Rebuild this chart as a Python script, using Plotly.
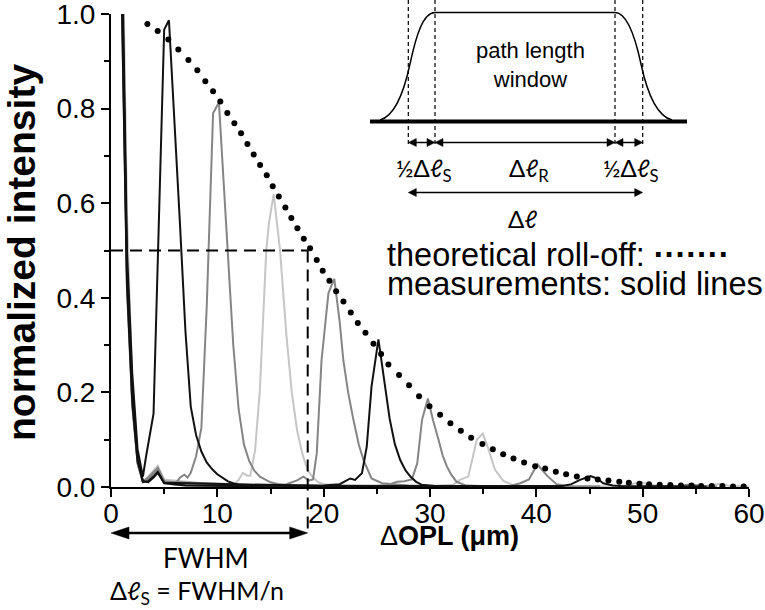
import plotly.graph_objects as go

# ---------------- data ----------------
# theoretical roll-off (dots)
roll_x = [3.42, 4.39, 5.39, 6.33, 7.28, 8.12, 8.87, 9.60, 10.28, 10.94, 11.60, 12.23, 12.83, 13.42,
          14.02, 14.65, 15.21, 15.78, 16.40, 16.96, 17.53, 18.13, 18.72, 19.35, 19.91, 20.54, 21.17,
          21.86, 22.55, 23.21, 23.93, 24.68, 25.40, 26.09, 27.09, 28.03, 28.97, 29.95, 30.95, 31.92,
          32.90, 33.87, 34.93, 35.91, 36.88, 37.85, 38.85, 39.89, 40.83, 41.83, 42.80, 43.81, 44.81,
          45.78, 46.78, 47.8, 48.7, 49.7, 50.6, 51.6, 52.6, 53.6, 54.6, 55.5, 56.5, 57.5, 58.5, 59.5]
roll_y = [0.979, 0.964, 0.946, 0.925, 0.903, 0.881, 0.858, 0.837, 0.815, 0.791, 0.769, 0.748, 0.725,
          0.703, 0.681, 0.659, 0.636, 0.614, 0.591, 0.569, 0.547, 0.525, 0.505, 0.480, 0.457, 0.436,
          0.414, 0.392, 0.369, 0.347, 0.326, 0.303, 0.281, 0.259, 0.237, 0.215, 0.192, 0.171, 0.153,
          0.135, 0.119, 0.104, 0.091, 0.080, 0.069, 0.060, 0.052, 0.044, 0.039, 0.032, 0.027, 0.022,
          0.018, 0.016, 0.014, 0.011, 0.009, 0.007, 0.006, 0.005, 0.004, 0.003, 0.003, 0.002, 0.002,
          0.002, 0.001, 0.001]

# measured point-spread functions (solid lines)
A_x = [0.0, 0.5, 1.0, 1.5, 2.0, 2.5, 3.0, 3.3, 4.0, 4.5, 5.0, 5.45, 6.0, 6.5, 7.0, 7.5, 8.0, 8.5, 9.0,
       9.5, 10.0, 10.5, 11.0, 11.5, 12.0, 13.0, 14.0, 15.0, 16.0, 17.0, 18.0, 20.0]
A_y = [4.0, 2.5, 1.2, 0.5, 0.24, 0.08, 0.022, 0.065, 0.155, 0.56, 0.967, 0.987, 0.77, 0.55, 0.33,
       0.17, 0.11, 0.075, 0.052, 0.038, 0.027, 0.019, 0.012, 0.008, 0.005, 0.002, 0.003, 0.004,
       0.003, 0.002, 0.001, 0.0]
B_x = [0.0, 0.5, 1.0, 1.5, 2.0, 2.5, 3.0, 3.5, 4.0, 4.4, 5.0, 6.0, 6.5, 6.9, 7.2, 7.5, 8.0, 8.5, 9.0,
       9.6, 10.15, 10.6, 11.0, 11.5, 12.0, 12.5, 13.0, 13.5, 14.0, 15.0, 16.0, 18.0, 20.0, 24.0]
B_y = [4.0, 2.3, 1.1, 0.45, 0.19, 0.06, 0.012, 0.018, 0.03, 0.04, 0.012, 0.006, 0.02, 0.026, 0.02,
       0.03, 0.065, 0.125, 0.38, 0.79, 0.813, 0.65, 0.49, 0.3, 0.165, 0.09, 0.055, 0.034, 0.022,
       0.01, 0.005, 0.003, 0.002, 0.001]
C_x = [0.0, 0.5, 1.0, 1.5, 2.0, 2.5, 3.0, 3.5, 4.0, 4.4, 5.0, 6.0, 8.0, 10.0, 11.5, 12.0, 12.4, 12.8,
       13.1, 13.55, 14.0, 14.6, 14.85, 15.3, 15.9, 16.5, 17.0, 17.5, 18.0, 18.5, 19.0, 19.5, 20.0,
       22.0, 26.0]
C_y = [4.0, 2.4, 1.25, 0.55, 0.2, 0.05, 0.01, 0.02, 0.033, 0.042, 0.014, 0.004, 0.003, 0.002, 0.004,
       0.015, 0.03, 0.024, 0.024, 0.078, 0.205, 0.5, 0.557, 0.619, 0.5, 0.32, 0.2, 0.12, 0.07, 0.035,
       0.02, 0.01, 0.006, 0.003, 0.001]
D_x = [0.0, 0.5, 1.0, 1.5, 2.0, 2.5, 3.0, 3.5, 4.0, 4.4, 5.0, 7.0, 10.0, 14.0, 16.5, 17.5, 18.1, 18.6,
       19.0, 19.35, 19.8, 20.45, 21.0, 21.5, 21.85, 22.3, 22.8, 23.3, 23.75, 24.5, 25.5, 28.0, 32.0]
D_y = [4.0, 2.2, 1.05, 0.42, 0.17, 0.05, 0.01, 0.016, 0.028, 0.036, 0.01, 0.004, 0.003, 0.003, 0.006,
       0.014, 0.022, 0.014, 0.016, 0.071, 0.268, 0.41, 0.44, 0.35, 0.268, 0.2, 0.142, 0.09, 0.057,
       0.018, 0.008, 0.003, 0.001]
E_x = [0.0, 0.5, 1.0, 1.5, 2.0, 2.5, 3.0, 3.5, 4.0, 4.4, 5.0, 7.0, 12.0, 16.0, 20.0, 21.5, 22.5,
       22.95, 23.6, 24.05, 24.5, 25.15, 25.6, 26.2, 26.7, 27.2, 27.7, 28.2, 28.7, 29.2, 30.5, 34.0]
E_y = [4.0, 2.3, 1.15, 0.46, 0.2, 0.06, 0.012, 0.01, 0.02, 0.03, 0.008, 0.003, 0.002, 0.003, 0.003,
       0.006, 0.018, 0.015, 0.029, 0.085, 0.212, 0.312, 0.245, 0.145, 0.09, 0.057, 0.035, 0.021,
       0.011, 0.005, 0.002, 0.001]
F_x = [0.0, 0.5, 1.0, 1.5, 2.0, 2.5, 3.0, 3.5, 4.0, 4.4, 5.0, 10.0, 20.0, 25.0, 26.0, 26.9, 27.6,
       28.3, 28.8, 29.25, 29.8, 30.3, 30.8, 31.2, 31.6, 32.0, 32.5, 33.4, 36.0]
F_y = [4.0, 2.3, 1.1, 0.44, 0.18, 0.055, 0.012, 0.02, 0.032, 0.04, 0.012, 0.003, 0.002, 0.002, 0.004,
       0.011, 0.012, 0.016, 0.05, 0.142, 0.187, 0.14, 0.1, 0.066, 0.043, 0.026, 0.011, 0.003, 0.001]
G_x = [0.0, 0.5, 1.0, 1.5, 2.0, 2.5, 3.0, 3.5, 4.0, 4.4, 5.0, 10.0, 20.0, 30.0, 32.2, 32.8, 33.6,
       34.4, 34.97, 35.5, 36.1, 36.9, 37.7, 38.5, 42.0]
G_y = [4.0, 2.5, 1.3, 0.58, 0.22, 0.06, 0.01, 0.022, 0.036, 0.045, 0.016, 0.004, 0.003, 0.002, 0.005,
       0.015, 0.022, 0.1, 0.113, 0.08, 0.037, 0.013, 0.005, 0.002, 0.001]
H_x = [0.0, 0.5, 1.0, 1.5, 2.0, 2.5, 3.0, 3.5, 4.0, 4.4, 5.0, 15.0, 30.0, 37.5, 38.5, 39.3, 40.1,
       41.0, 41.9, 43.0, 46.0]
H_y = [4.0, 2.3, 1.1, 0.45, 0.18, 0.05, 0.011, 0.018, 0.03, 0.038, 0.011, 0.003, 0.002, 0.002, 0.008,
       0.016, 0.048, 0.024, 0.006, 0.002, 0.001]
I_x = [0.0, 0.5, 1.0, 1.5, 2.0, 2.5, 3.0, 3.5, 4.0, 4.4, 5.0, 20.0, 40.0, 42.5, 43.3, 44.1, 45.1,
       45.7, 46.3, 47.2, 48.0, 52.0, 56.0]
I_y = [4.0, 2.2, 1.05, 0.43, 0.18, 0.055, 0.011, 0.012, 0.022, 0.032, 0.009, 0.002, 0.002, 0.002,
       0.006, 0.015, 0.023, 0.018, 0.008, 0.003, 0.002, 0.002, 0.001]
J_x = [44.0, 48.0, 49.0, 49.8, 50.5, 51.5, 53.0]
J_y = [0.001, 0.002, 0.006, 0.011, 0.006, 0.002, 0.001]
K_x = [50.0, 53.5, 54.5, 55.5, 57.0]
K_y = [0.001, 0.002, 0.006, 0.002, 0.001]
L_x = [52.0, 56.0, 57.2, 58.0, 59.0, 60.0]
L_y = [0.001, 0.002, 0.007, 0.003, 0.002, 0.001]

BLACK, GRAY, LIGHT = "#111111", "#858585", "#c6c6c6"
curves = [
    (L_x, L_y, LIGHT), (J_x, J_y, LIGHT), (G_x, G_y, LIGHT), (C_x, C_y, LIGHT),
    (K_x, K_y, GRAY), (H_x, H_y, GRAY), (F_x, F_y, GRAY), (D_x, D_y, GRAY), (B_x, B_y, GRAY),
    (I_x, I_y, BLACK), (E_x, E_y, BLACK), (A_x, A_y, BLACK),
]

x_ticks = [0, 10, 20, 30, 40, 50, 60]
y_ticks = [0.0, 0.2, 0.4, 0.6, 0.8, 1.0]
fwhm_x = 18.5
half_max = 0.5

# ---------------- layout geometry ----------------
W, H = 765, 610
ML, MR, MT, MB = 111, 16, 14, 123
PW, PH = W - ML - MR, H - MT - MB


def px(sx):
    return (sx - ML) / PW


def py(sy):
    return (H - MB - sy) / PH


fig = go.Figure()
for xs, ys, col in curves:
    fig.add_trace(go.Scatter(x=xs, y=ys, mode="lines", line=dict(color=col, width=2),
                             showlegend=False, hoverinfo="skip"))
fig.add_trace(go.Scatter(x=roll_x, y=roll_y, mode="markers",
                         marker=dict(color="black", size=6), showlegend=False, hoverinfo="skip"))

shapes = []


def pline(x0, y0, x1, y1, width=1.5, dash="solid"):
    shapes.append(dict(type="line", xref="paper", yref="paper", x0=px(x0), y0=py(y0),
                       x1=px(x1), y1=py(y1), line=dict(color="black", width=width, dash=dash)))


def tri(tipx, y, direction, hl, hw):
    bx = tipx - direction * hl
    path = "M {:.5f},{:.5f} L {:.5f},{:.5f} L {:.5f},{:.5f} Z".format(
        px(tipx), py(y), px(bx), py(y - hw), px(bx), py(y + hw))
    shapes.append(dict(type="path", xref="paper", yref="paper", path=path,
                       fillcolor="black", line=dict(color="black", width=0.5)))


def darrow(x0, x1, y, width, hl, hw):
    pline(x0 + hl * 0.8, y, x1 - hl * 0.8, y, width=width)
    tri(x0, y, -1, hl, hw)
    tri(x1, y, 1, hl, hw)


# FWHM dashed guides (data coordinates converted to pixels)
sx_f = ML + fwhm_x / 60 * PW
sy_h = MT + (1 - half_max) * PH
pline(ML, sy_h, sx_f, sy_h, width=2, dash="12px,7px")
pline(sx_f, sy_h, sx_f, 532, width=2, dash="12px,7px")
# FWHM arrow
darrow(ML, sx_f, 533, 2.5, 18, 6)


# inset: path length window
def P(sx, sy):
    return "{:.5f},{:.5f}".format(px(sx), py(sy))


win = ("M " + P(380, 120) + " C " + P(395, 116) + " " + P(404, 92) + " " + P(410, 64) +
       " C " + P(416, 36) + " " + P(423, 12.5) + " " + P(435, 12.5) +
       " L " + P(615, 12.5) + " C " + P(627, 12.5) + " " + P(635, 36) + " " + P(641, 64) +
       " C " + P(647, 92) + " " + P(656, 116) + " " + P(672, 120))
shapes.append(dict(type="path", xref="paper", yref="paper", path=win,
                   line=dict(color="black", width=1.5)))
pline(370, 121.5, 687, 121.5, width=4)
for vx in [408.3, 435, 615, 642.7]:
    pline(vx, 0, vx, 144, width=1.2, dash="4px,3px")
darrow(408.3, 435, 142.5, 1.5, 8, 4)
darrow(435, 615, 142.5, 1.5, 8, 4)
darrow(615, 642.7, 142.5, 1.5, 8, 4)
darrow(408.3, 642.7, 192.5, 1.5, 8, 4)

ARIAL = "Liberation Sans, Arial, sans-serif"
CAL = "Lato, Liberation Sans, sans-serif"
annotations = []


def text(t, sx, sy, size, family=ARIAL, xanchor="center", angle=0):
    annotations.append(dict(text=t, x=px(sx), y=py(sy), xref="paper", yref="paper",
                            showarrow=False, xanchor=xanchor, yanchor="middle",
                            textangle=angle, font=dict(size=size, family=family, color="black")))


text("path length<br>window", 530, 65, 22)
text("½Δℓ<sub>S</sub>", 424, 170, 24, CAL)
text("Δℓ<sub>R</sub>", 529, 170, 24, CAL)
text("½Δℓ<sub>S</sub>", 631, 170, 24, CAL)
text("Δℓ", 522, 218, 24, CAL)
text("theoretical roll-off: <b>·······</b>", 385, 255, 32.5, xanchor="left")
text("measurements: solid lines", 385, 284, 32.5, xanchor="left")
text("FWHM", 206, 558, 26, CAL)
text("Δℓ<sub>S</sub> = FWHM/n", 197, 592, 25, CAL)
text("<b>normalized intensity</b>", 22, 253, 39, angle=-90)
text("Δ<b>OPL (μm)</b>", 449, 536, 27)

axis_common = dict(showline=True, linecolor="black", linewidth=2, ticks="outside", ticklen=8,
                   tickwidth=2, tickcolor="black", showgrid=False, zeroline=False,
                   automargin=False, ticklabeloverflow="allow",
                   tickfont=dict(size=28, family=ARIAL, color="black"))
fig.update_layout(
    width=W, height=H, autosize=False,
    margin=dict(l=ML, r=MR, t=MT, b=MB, autoexpand=False),
    paper_bgcolor="white", plot_bgcolor="white",
    xaxis=dict(range=[0, 60.0001], tickvals=x_ticks, ticktext=[str(v) for v in x_ticks],
               ticklabelstandoff=-8,
               minor=dict(ticks="outside", ticklen=5, tickwidth=2, tickcolor="black", dtick=5),
               **axis_common),
    yaxis=dict(range=[0, 1.0001], tickvals=y_ticks, ticktext=["{:.1f}".format(v) for v in y_ticks],
               minor=dict(ticks="outside", ticklen=5, tickwidth=2, tickcolor="black", dtick=0.1),
               **axis_common),
    shapes=shapes, annotations=annotations, showlegend=False,
)
fig.write_html("out.html", post_script="document.body.style.margin='0px';",
               config={"displayModeBar": False})
